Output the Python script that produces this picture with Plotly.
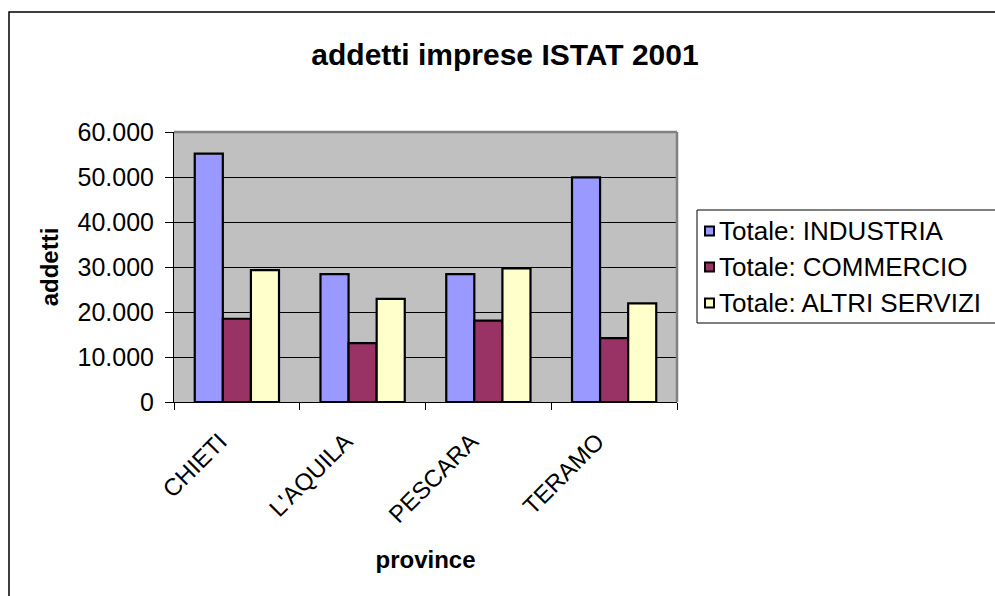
import plotly.graph_objects as go

provinces = ["CHIETI", "L'AQUILA", "PESCARA", "TERAMO"]
industria = [55200, 28400, 28400, 49900]
commercio = [18500, 13100, 18100, 14200]
altri_servizi = [29300, 22900, 29700, 21900]

series_names = ["Totale: INDUSTRIA", "Totale: COMMERCIO", "Totale: ALTRI SERVIZI"]
series_values = [industria, commercio, altri_servizi]
series_colors = ["#9999FF", "#993366", "#FFFFCC"]

FONT = "Liberation Sans, Arial, sans-serif"

W, H = 995, 596
L, R, T, B = 174, 677, 132, 402


def px(x):
    return (x - L) / (R - L)


def py(y):
    return (B - y) / (B - T)


fig = go.Figure()
for name, vals, col in zip(series_names, series_values, series_colors):
    fig.add_trace(go.Bar(
        x=provinces, y=vals, name=name,
        marker=dict(color=col, line=dict(color="black", width=2.2)),
    ))

shapes = [
    # plot-area frame (gray, top and right)
    dict(type="line", xref="paper", yref="paper", x0=0, x1=1, y0=1, y1=1,
         line=dict(color="#808080", width=2.5)),
    dict(type="line", xref="paper", yref="paper", x0=1, x1=1, y0=0, y1=1,
         line=dict(color="#808080", width=2.5)),
    # chart outer border
    dict(type="rect", xref="paper", yref="paper",
         x0=px(9), x1=px(1020), y0=py(640), y1=py(12),
         line=dict(color="black", width=1.5), layer="below"),
    # legend box
    dict(type="rect", xref="paper", yref="paper",
         x0=px(697), x1=px(1020), y0=py(323), y1=py(210),
         line=dict(color="black", width=1), fillcolor="white", layer="below"),
]
annotations = []
row_y = [231, 267, 303]
for name, col, yy in zip(series_names, series_colors, row_y):
    shapes.append(dict(type="rect", xref="paper", yref="paper",
                       x0=px(705), x1=px(714), y0=py(yy + 4.5), y1=py(yy - 4.5),
                       line=dict(color="black", width=2), fillcolor=col))
    annotations.append(dict(text=name, xref="paper", yref="paper",
                            x=px(717), y=py(yy), xanchor="left", yanchor="middle",
                            showarrow=False, font=dict(size=26, family=FONT, color="black")))

fig.update_layout(
    width=W, height=H,
    margin=dict(l=L, r=W - R, t=T, b=H - B, autoexpand=False),
    paper_bgcolor="white",
    plot_bgcolor="#C0C0C0",
    separators=",.",
    barmode="group",
    bargap=0.33,
    bargroupgap=0,
    showlegend=False,
    font=dict(family=FONT, size=25, color="black"),
    title=dict(text="<b>addetti imprese ISTAT 2001</b>", x=505 / W, xanchor="center",
               y=1 - 54 / H, yanchor="middle", font=dict(size=30, family=FONT, color="black")),
    xaxis=dict(
        showline=True, linecolor="black", linewidth=1,
        ticks="outside", ticklen=7, tickcolor="black", tickson="boundaries",
        tickangle=-45, tickfont=dict(size=24),
        ticklabelstandoff=15, ticklabelshift=-17,
        title=dict(text="<b>province</b>", font=dict(size=24), standoff=24),
    ),
    yaxis=dict(
        range=[0, 60000], dtick=10000, tickformat=",",
        showline=True, linecolor="black", linewidth=1,
        ticks="outside", ticklen=8, tickcolor="black", ticklabelstandoff=6,
        showgrid=True, gridcolor="black", gridwidth=1,
        tickfont=dict(size=25),
        title=dict(text="<b>addetti</b>", font=dict(size=24), standoff=12),
        zeroline=False,
    ),
    shapes=shapes,
    annotations=annotations,
)

fig.write_html("out.html")
